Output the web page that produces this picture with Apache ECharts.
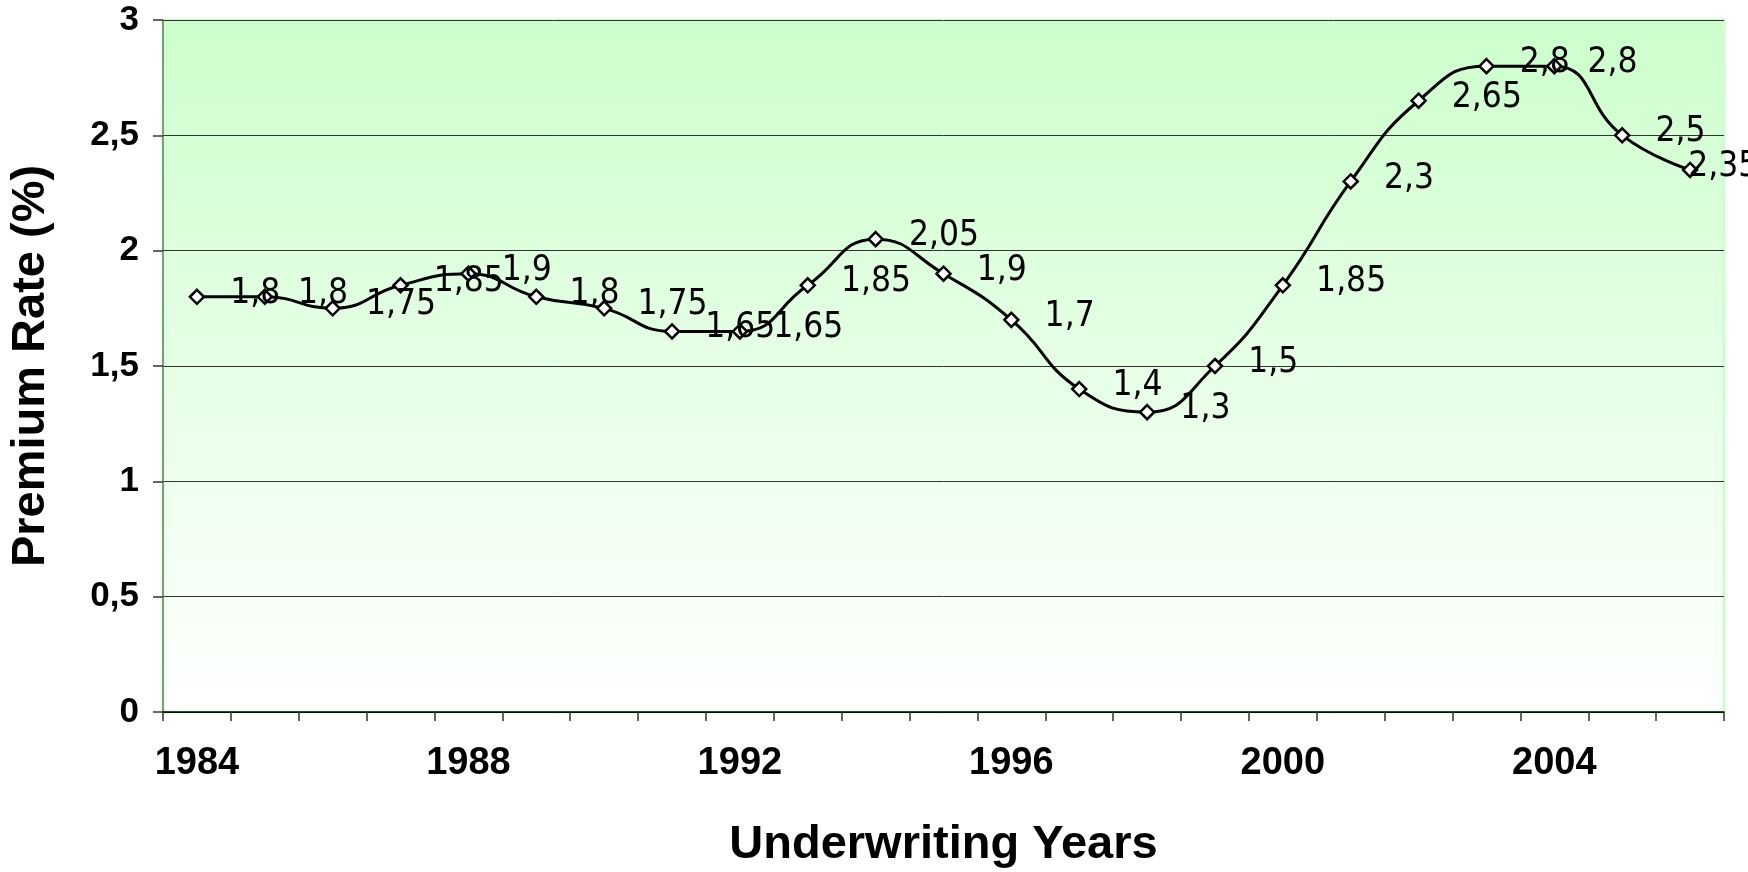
<!DOCTYPE html>
<html>
<head>
<meta charset="utf-8">
<script src="https://cdn.jsdelivr.net/npm/echarts@6/dist/echarts.min.js"></script>
<style>
  html, body { margin: 0; padding: 0; background: #ffffff; }
  #chart { width: 1748px; height: 872px; }
</style>
</head>
<body>
<div id="chart"></div>
<script>
const years = ['1984','1985','1986','1987','1988','1989','1990','1991','1992','1993','1994','1995',
               '1996','1997','1998','1999','2000','2001','2002','2003','2004','2005','2006'];
const premiumRate = [1.8, 1.8, 1.75, 1.85, 1.9, 1.8, 1.75, 1.65, 1.65, 1.85, 2.05, 1.9,
                     1.7, 1.4, 1.3, 1.5, 1.85, 2.3, 2.65, 2.8, 2.8, 2.5, 2.35];
const yTicks = { min: 0, max: 3, interval: 0.5 };
const xAxisTitle = 'Underwriting Years';
const yAxisTitle = 'Premium Rate (%)';

const comma = v => String(v).replace('.', ',');
const boldFont = '"Liberation Sans", Arial, sans-serif';
const narrowFont = '"Liberation Sans Narrow", "Arial Narrow", "DejaVu Sans Condensed", "Liberation Sans", sans-serif';

const seriesData = premiumRate.map((v, i) => {
  if (i === premiumRate.length - 1) {
    return { value: v, label: { distance: -10 } };
  }
  return v;
});

const chart = echarts.init(document.getElementById('chart'), null, { renderer: 'canvas' });
chart.setOption({
  animation: false,
  backgroundColor: '#ffffff',
  grid: {
    left: 163, right: 24, top: 20, bottom: 160,
    outerBoundsMode: 'none',
    containLabel: false,
    show: true,
    borderWidth: 3,
    borderColor: '#ccffcc',
    backgroundColor: new echarts.graphic.LinearGradient(0, 0, 0, 1, [
      { offset: 0, color: '#ccffcc' },
      { offset: 1, color: '#ffffff' }
    ])
  },
  xAxis: {
    type: 'category',
    data: years,
    boundaryGap: true,
    name: xAxisTitle,
    nameLocation: 'middle',
    nameGap: 110,
    nameTextStyle: { fontFamily: boldFont, fontWeight: 'bold', fontSize: 47, color: '#000' },
    axisLine: { show: true, lineStyle: { color: '#000', width: 1.5 } },
    axisTick: { show: true, interval: 0, length: 9, lineStyle: { color: '#333', width: 1.5 } },
    axisLabel: { interval: 3, margin: 33, fontFamily: boldFont, fontWeight: 'bold', fontSize: 38, color: '#000' },
    splitLine: { show: false }
  },
  yAxis: {
    type: 'value',
    min: yTicks.min, max: yTicks.max, interval: yTicks.interval,
    name: yAxisTitle,
    nameLocation: 'middle',
    nameGap: 108,
    nameRotate: 90,
    nameTextStyle: { fontFamily: boldFont, fontWeight: 'bold', fontSize: 47, color: '#000' },
    axisLine: { show: true, lineStyle: { color: '#5f7f5f', width: 1.5 } },
    axisTick: { show: true, length: 10, lineStyle: { color: '#333', width: 1.5 } },
    axisLabel: { margin: 24, fontFamily: boldFont, fontWeight: 'bold', fontSize: 35, color: '#000',
                 formatter: v => comma(v) },
    splitLine: { show: true, lineStyle: { color: '#333', width: 1 } }
  },
  series: [{
    type: 'line',
    data: seriesData,
    smooth: 0.5,
    lineStyle: { color: '#000', width: 3 },
    symbol: 'diamond',
    symbolSize: 14,
    itemStyle: { color: '#ffffff', borderColor: '#000', borderWidth: 2.5 },
    label: {
      show: true,
      position: 'right',
      distance: 25,
      offset: [0, -3],
      fontFamily: narrowFont,
      fontSize: 35,
      color: '#000',
      formatter: p => comma(p.value)
    },
    z: 3
  }]
});
</script>
</body>
</html>
